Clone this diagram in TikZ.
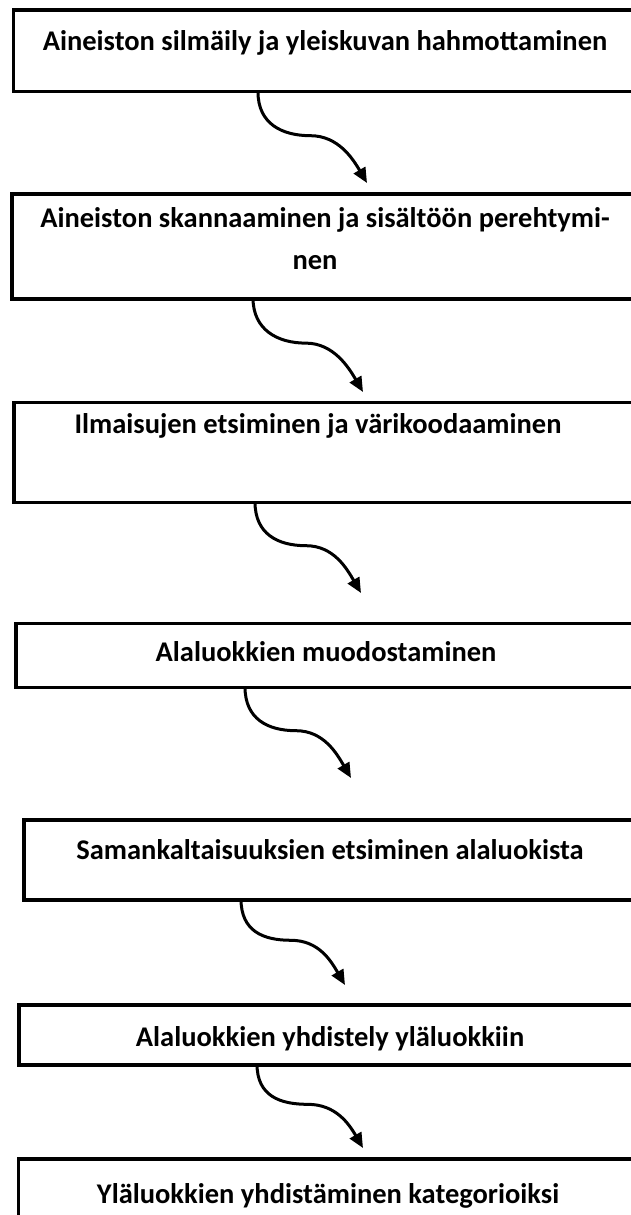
\documentclass[tikz,border=0pt]{standalone}
\usepackage{fontspec}
\setmainfont{Carlito}
\usetikzlibrary{arrows.meta,calc}
\tikzset{
  stepbox/.style={draw=black, line width=3.5pt, fill=none, inner sep=0pt, anchor=north west},
  lbl/.style={font=\bfseries\fontsize{28.5}{44}\selectfont, anchor=base, inner sep=0pt, align=center},
  flow/.style={line width=3pt, -{Triangle[length=15pt,width=13pt]}}
}
\begin{document}
\begin{tikzpicture}[x=1pt,y=-1pt]
\useasboundingbox (0,0) rectangle (630,1215);
% boxes
\node[stepbox, minimum width=640pt, minimum height=81pt]  (b1) at (11.5,8.5) {};
\node[stepbox, minimum width=640pt, minimum height=105pt] (b2) at (10,192) {};
\node[stepbox, minimum width=640pt, minimum height=100pt] (b3) at (12,400.5) {};
\node[stepbox, minimum width=640pt, minimum height=64pt]  (b4) at (14,621.5) {};
\node[stepbox, minimum width=640pt, minimum height=80pt]  (b5) at (22,818) {};
\node[stepbox, minimum width=640pt, minimum height=60pt]  (b6) at (17,1003) {};
\node[stepbox, minimum width=640pt, minimum height=100pt] (b7) at (16.5,1157) {};
% labels
\node[lbl] (t1) at (325,51) {Aineiston silmäily ja yleiskuvan hahmottaminen};
\node[lbl] (t2) at (325,227) {Aineiston skannaaminen ja sisältöön perehtymi-};
\node[lbl] (t2b) at (315,269) {nen};
\node[lbl] (t3) at (318,433) {Ilmaisujen etsiminen ja värikoodaaminen};
\node[lbl] (t4) at (326,661) {Alaluokkien muodostaminen};
\node[lbl] (t5) at (330,859) {Samankaltaisuuksien etsiminen alaluokista};
\node[lbl] (t6) at (330,1046) {Alaluokkien yhdistely yläluokkiin};
\node[lbl] (t7) at (328,1203) {Yläluokkien yhdistäminen kategorioiksi};
% connector ends
\coordinate (s1) at (258,92);   \coordinate (e1) at (367,183);
\coordinate (s2) at (253,298);  \coordinate (e2) at (363,392);
\coordinate (s3) at (255,502);  \coordinate (e3) at (361,593);
\coordinate (s4) at (245,687);  \coordinate (e4) at (351,778);
\coordinate (s5) at (241,899);  \coordinate (e5) at (345,985);
\coordinate (s6) at (257,1064); \coordinate (e6) at (363,1148);
% connectors
\foreach \i in {1,...,6}{
  \draw[flow] (s\i) .. controls +(0,32) and +(-28,0) .. ($(s\i)!0.48!(e\i)$)
    .. controls +(28,0) and +(-14,-24) .. (e\i);
}
\end{tikzpicture}
\end{document}
